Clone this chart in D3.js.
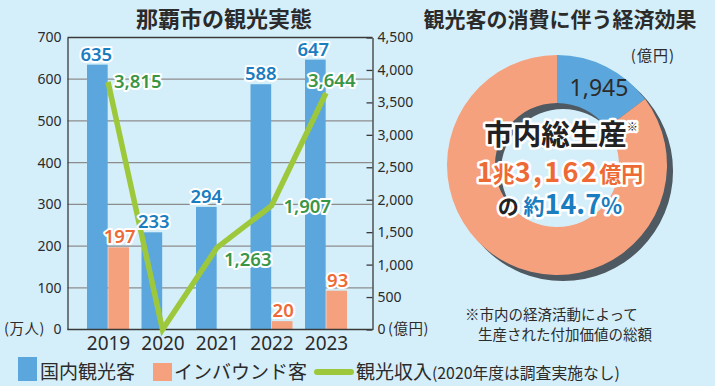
<!DOCTYPE html>
<html><head><meta charset="utf-8">
<script src="https://cdn.jsdelivr.net/npm/d3@7"></script>
<style>
html,body{margin:0;padding:0;background:#d5effa;}
svg{display:block;font-family:"Noto Sans CJK JP","Noto Sans",sans-serif;}
</style></head>
<body><svg id="c" width="715" height="386"></svg>
<script>
const years = ["2019","2020","2021","2022","2023"];
const domestic = [635, 233, 294, 588, 647];
const inbound = [197, 0, 0, 20, 93];
const revenue = [3815, 0, 1263, 1907, 3644];
const leftTicks = [0,100,200,300,400,500,600,700];
const rightTicks = [0,500,1000,1500,2000,2500,3000,3500,4000,4500];
const pieLabels = ["観光客の消費", "その他"];
const pieValues = [1945, 11217];
const shareLabel = "14.7";
const seriesNames = ["国内観光客","インバウンド客","観光収入"];

const C = {bg:"#d5effa", blue:"#5ba7dd", orange:"#f6a17e", green:"#9dc83b",
  tblue:"#1a7dc0", torange:"#ee6a35", tgreen:"#3a9645", text:"#2b2b2b", grid:"#8c8c8c", axis:"#3a3a3a", shadow:"#4e5961"};

const svg = d3.select("#c");
svg.append("rect").attr("width",715).attr("height",386).attr("fill",C.bg);

// Titles
svg.append("text").attr("x",224).attr("y",27).attr("text-anchor","middle")
  .attr("font-size",22).attr("font-weight",700).attr("fill",C.text).text("那覇市の観光実態");
svg.append("text").attr("x",560).attr("y",27).attr("text-anchor","middle")
  .attr("font-size",21).attr("font-weight",700).attr("fill",C.text).text("観光客の消費に伴う経済効果");

// Scales
const x0 = 67.5, x1 = 372.5, yTop = 37.5, yBot = 329.5;
const y = d3.scaleLinear().domain([0,700]).range([yBot,yTop]);
const y2 = d3.scaleLinear().domain([0,4500]).range([yBot,yTop]);
const xc = d3.scalePoint().domain(years).range([108,326]);
const xs = d3.scaleBand().domain(["d","i"]).range([-21,21]).paddingInner(0.03);

const g = svg.append("g");
// gridlines
g.selectAll("line.grid").data(leftTicks.filter(t=>t>0 && t<700)).join("line")
  .attr("x1",x0).attr("x2",x1).attr("y1",d=>y(d)).attr("y2",d=>y(d))
  .attr("stroke",C.grid).attr("stroke-width",1.2);

// bars
g.selectAll("rect.dom").data(years).join("rect")
  .attr("x",(d)=>xc(d)+xs("d")).attr("width",xs.bandwidth())
  .attr("y",(d,i)=>y(domestic[i])).attr("height",(d,i)=>yBot-y(domestic[i])).attr("fill",C.blue);
g.selectAll("rect.inb").data(years.filter((d,i)=>inbound[i]>0)).join("rect")
  .attr("x",(d)=>xc(d)+xs("i")).attr("width",xs.bandwidth())
  .attr("y",d=>y(inbound[years.indexOf(d)])).attr("height",d=>yBot-y(inbound[years.indexOf(d)])).attr("fill",C.orange);

// frame: top line, axes
g.append("line").attr("x1",x0).attr("x2",x1).attr("y1",yTop).attr("y2",yTop).attr("stroke",C.axis).attr("stroke-width",1.3);
const axL = g.append("g").attr("transform",`translate(${x0},0)`)
  .call(d3.axisLeft(y).tickValues(leftTicks).tickSize(0).tickPadding(6));
const axR = g.append("g").attr("transform",`translate(${x1},0)`)
  .call(d3.axisRight(y2).tickValues(rightTicks).tickSizeInner(-6).tickSizeOuter(0).tickPadding(5).tickFormat(d3.format(",")));
const axB = g.append("g").attr("transform",`translate(0,${yBot})`)
  .call(d3.axisBottom(xc).tickSize(0).tickPadding(7));
axB.select(".domain").attr("d",`M${x0},0H${x1}`);
[axL,axR,axB].forEach(a=>{
  a.select(".domain").attr("stroke",C.axis).attr("stroke-width",1.3);
  a.selectAll(".tick line").attr("stroke",C.axis).attr("stroke-width",1.3);
  a.selectAll("text").attr("fill",C.text).attr("font-family",'"Noto Sans","Noto Sans CJK JP",sans-serif');
});
axL.selectAll("text").attr("font-size",14);
axR.selectAll("text").attr("font-size",14);
axB.selectAll("text").attr("font-size",19).attr("dy","0.72em");

svg.append("text").attr("x",4).attr("y",334).attr("font-size",14.5).attr("letter-spacing",0.5).attr("fill",C.text).text("(万人)");
svg.append("text").attr("x",388).attr("y",334).attr("font-size",14.5).attr("letter-spacing",0.5).attr("fill",C.text).text("(億円)");

// line
const line = d3.line().x((d,i)=>xc(years[i])).y(d=>y2(d));
g.append("path").datum(revenue).attr("d",line).attr("fill","none")
  .attr("stroke",C.green).attr("stroke-width",5.5).attr("stroke-linejoin","miter").attr("stroke-linecap","butt");

function halo(sel, sw){ return sel.attr("stroke","#fff").attr("stroke-width",sw).attr("stroke-linejoin","round").attr("paint-order","stroke"); }
const fmt = d3.format(",");
const numFont = '"Noto Sans","Noto Sans CJK JP",sans-serif';
const cjkFont = '"Noto Sans CJK JP",sans-serif';

// domestic labels
const domOff = [[-1,-4],[2,-4],[0,-4],[0,-4],[-2,-4]];
g.selectAll("text.dl").data(years).join("text")
  .attr("x",(d,i)=>xc(d)+xs("d")+xs.bandwidth()/2+domOff[i][0])
  .attr("y",(d,i)=>y(domestic[i])+domOff[i][1])
  .attr("text-anchor","middle").attr("font-size",18.5).attr("font-weight",600).attr("font-family",numFont)
  .attr("fill",C.tblue).text((d,i)=>domestic[i]).call(halo,4);
// inbound labels
g.selectAll("text.il").data(years.filter((d,i)=>inbound[i]>0)).join("text")
  .attr("x",d=>xc(d)+xs("i")+xs.bandwidth()/2+1)
  .attr("y",d=>y(inbound[years.indexOf(d)])-4)
  .attr("text-anchor","middle").attr("font-size",18.5).attr("font-weight",600).attr("font-family",numFont)
  .attr("fill",C.torange).text(d=>inbound[years.indexOf(d)]).call(halo,4);
// revenue labels
const revOff = [[6,6],null,[7,18],[12,7],[-18,-6]];
g.selectAll("text.rl").data(years.filter((d,i)=>revOff[i])).join("text")
  .attr("x",d=>xc(d)+revOff[years.indexOf(d)][0])
  .attr("y",d=>y2(revenue[years.indexOf(d)])+revOff[years.indexOf(d)][1])
  .attr("font-size",18.5).attr("font-weight",600).attr("font-family",numFont)
  .attr("fill",C.tgreen).text(d=>fmt(revenue[years.indexOf(d)])).call(halo,4);

// legend
const lg = svg.append("g");
lg.append("rect").attr("x",18).attr("y",357).attr("width",19).attr("height",24).attr("fill",C.blue);
lg.append("text").attr("x",40).attr("y",379).attr("font-size",19).attr("fill",C.text).text(seriesNames[0]);
lg.append("rect").attr("x",153).attr("y",363).attr("width",19).attr("height",18).attr("fill",C.orange);
lg.append("text").attr("x",174).attr("y",379).attr("font-size",19).attr("fill",C.text).text(seriesNames[1]);
lg.append("line").attr("x1",317).attr("x2",351).attr("y1",372).attr("y2",372)
  .attr("stroke",C.green).attr("stroke-width",6).attr("stroke-linecap","round");
const lt = lg.append("text").attr("x",356).attr("y",379).attr("fill",C.text);
lt.append("tspan").attr("font-size",19).text(seriesNames[2]);
lt.append("tspan").attr("font-size",15.8).text("(2020年度は調査実施なし)");

// donut
const cx = 557, cy = 165, rO = 110, rI = 62;
const pie = d3.pie().sort(null).value(d=>d);
const arcs = pie(pieValues);
const arc = d3.arc().innerRadius(rI).outerRadius(rO);
const dg = svg.append("g").attr("transform",`translate(${cx},${cy})`);
dg.append("path").attr("transform","translate(6,6)")
  .attr("d",d3.arc().innerRadius(rI).outerRadius(rO)({startAngle:0,endAngle:2*Math.PI})).attr("fill",C.shadow);
dg.selectAll("path.s").data(arcs).join("path").attr("d",arc)
  .attr("fill",(d,i)=>i===0?C.blue:C.orange);

svg.append("text").attr("x",675).attr("y",61).attr("text-anchor","end").attr("font-size",15).attr("letter-spacing",1).attr("fill",C.text).text("(億円)");
svg.append("text").attr("x",599).attr("y",96).attr("text-anchor","middle").attr("font-size",23).attr("font-family",numFont)
  .attr("fill",C.text).text(fmt(pieValues[0]));

const t1 = svg.append("text").attr("x",561).attr("y",145).attr("text-anchor","middle").attr("font-weight",700).attr("fill","#222").call(halo,5);
t1.append("tspan").attr("font-size",28.5).text("市内総生産");
t1.append("tspan").attr("font-size",11).attr("dy",-14).text("※");

const total = d3.sum(pieValues);
const tStr = fmt(total).split(",");
const t2 = svg.append("text").attr("x",560).attr("y",182).attr("text-anchor","middle").attr("font-weight",700).attr("font-family",cjkFont).attr("fill",C.torange).call(halo,5);
t2.append("tspan").attr("font-size",27).text(tStr[0].slice(0,1));
t2.append("tspan").attr("font-size",22).text("兆");
t2.append("tspan").attr("font-size",27).attr("letter-spacing",2.4).text(tStr[0].slice(1)+","+tStr[1]);
t2.append("tspan").attr("font-size",22).text("億円");

const t3 = svg.append("text").attr("x",560).attr("y",214).attr("text-anchor","middle").attr("font-weight",700).attr("font-family",cjkFont).call(halo,5);
t3.append("tspan").attr("font-size",21).attr("fill","#222").text("の ");
t3.append("tspan").attr("font-size",21).attr("fill",C.tblue).text("約");
t3.append("tspan").attr("font-size",27).attr("fill",C.tblue).text(shareLabel);
t3.append("tspan").attr("font-size",22).attr("fill",C.tblue).text("%");

svg.append("text").attr("x",465).attr("y",320).attr("font-size",14.5).attr("fill",C.text).text("※市内の経済活動によって");
svg.append("text").attr("x",478).attr("y",340).attr("font-size",14.5).attr("fill",C.text).text("生産された付加価値の総額");
</script></body></html>
